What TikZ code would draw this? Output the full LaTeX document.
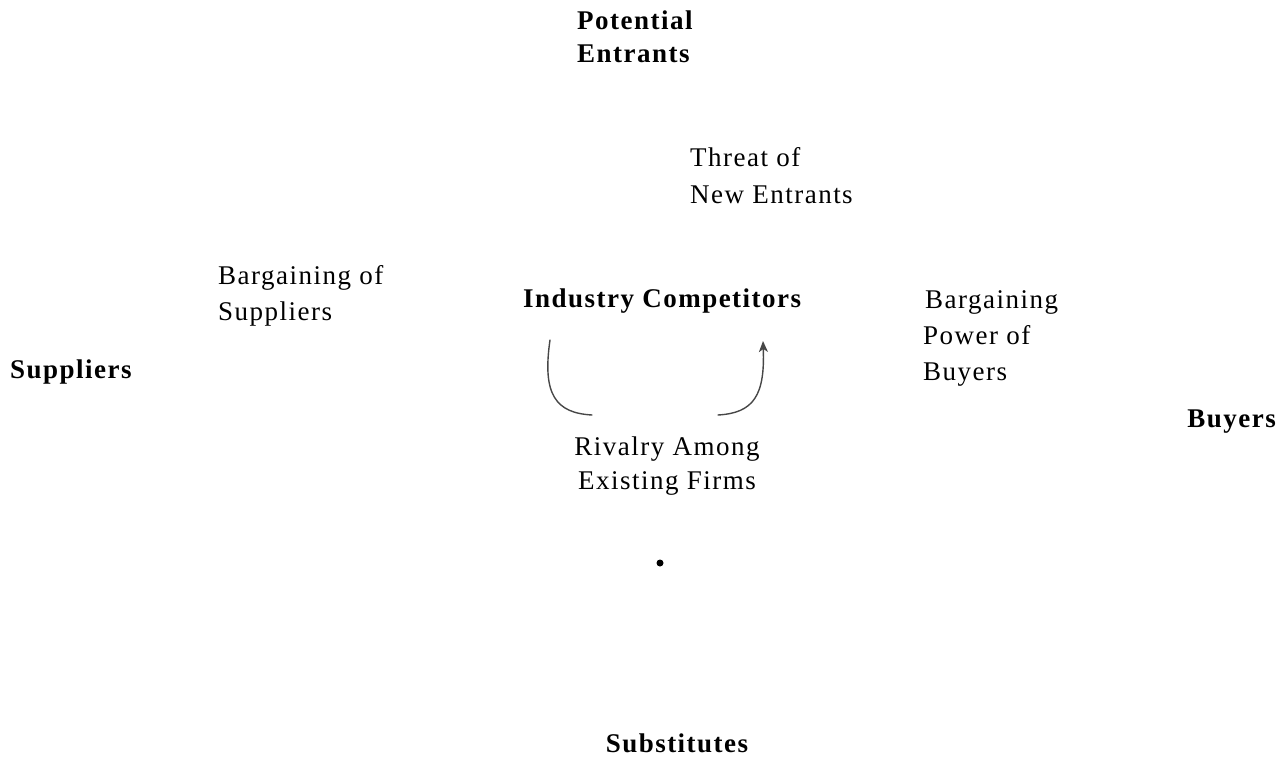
\documentclass[tikz,border=0pt]{standalone}
\usepackage{fontspec}
\setmainfont{Liberation Serif}[LetterSpace=5.5]
\usetikzlibrary{arrows.meta}
\begin{document}
\begin{tikzpicture}[x=1pt, y=-1pt,
  every node/.style={inner sep=0pt, anchor=base west, align=left,
    font=\fontsize{27}{36}\selectfont},
  force/.style={font=\fontsize{27}{33}\selectfont\bfseries},
  rival/.style={draw=black!72, line width=1.4pt, line cap=round},
  rivaltip/.style={rival, -{Stealth[length=11pt, width=9pt, inset=3pt]}}]
  \useasboundingbox (0,0) rectangle (1288,757);

  % the five forces
  \node[force] (entrants) at (577,63) {Potential\\Entrants};
  \node[force] (industry) at (523,307) {Industry Competitors};
  \node[force] (suppliers) at (10,378) {Suppliers};
  \node[force, anchor=base east] (buyers) at (1276,427) {Buyers};
  \node[force, anchor=base] (substitutes) at (677,752) {Substitutes};

  % threats
  \node (threat) at (690,203) {Threat of\\New Entrants};
  \node (supbargain) at (218,320) {Bargaining of\\Suppliers};
  \node (buybargain) at (923,380) {\hspace{2pt}Bargaining\\Power of\\Buyers};
  \node[align=center, anchor=base, font=\fontsize{27}{34}\selectfont] (rivalry) at (667,489) {Rivalry Among\\Existing Firms};
  \fill (660,563) circle (3.5pt);

  % rivalry arrows
  \coordinate (ltop) at (550,340);
  \coordinate (lend) at (592,415);
  \coordinate (rstart) at (718,415);
  \coordinate (rtop) at (763,341);
  \draw[rival] (ltop) .. controls (542,395) and (556,413) .. (lend);
  \draw[rivaltip] (rstart) .. controls (754,413) and (765,395) .. (rtop);
\end{tikzpicture}
\end{document}
